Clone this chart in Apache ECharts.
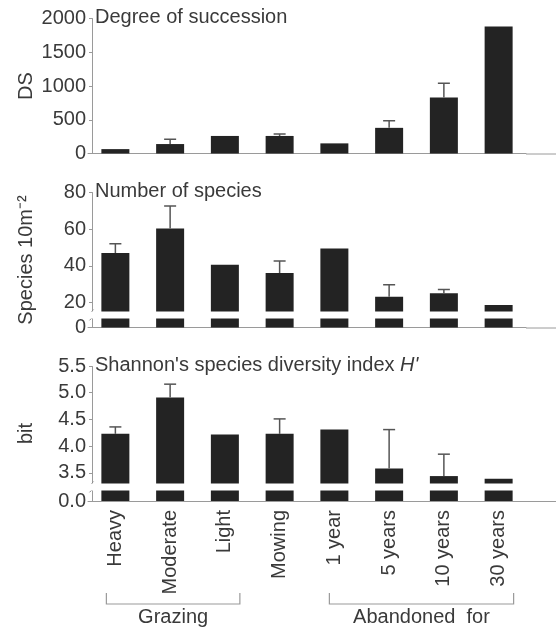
<!DOCTYPE html>
<html><head><meta charset="utf-8">
<script src="https://cdn.jsdelivr.net/npm/echarts@6/dist/echarts.min.js"></script>
<style>html,body{margin:0;padding:0;background:#fff}#c{width:560px;height:630px}</style>
</head><body><div id="c"></div>
<script>
// ---- data ----
const categories = ['Heavy', 'Moderate', 'Light', 'Mowing', '1 year', '5 years', '10 years', '30 years'];
const dsValues = [65, 140, 260, 260, 150, 380, 830, 1880];
const dsErrorTops = [null, 210, null, 290, null, 485, 1040, null];
const speciesValues = [47, 60.4, 40.6, 36, 49.4, 23.1, 25, 18.6];
const speciesErrorTops = [52, 72.6, null, 42.6, null, 29.7, 27, null];
const shannonValues = [4.23, 4.91, 4.22, 4.23, 4.31, 3.58, 3.44, 3.39];
const shannonErrorTops = [4.36, 5.16, null, 4.51, null, 4.31, 3.85, null];
const dsTicks = [0, 500, 1000, 1500, 2000];
const speciesTicks = [0, 20, 40, 60, 80];
const shannonTicks = [0, 3.5, 4.0, 4.5, 5.0, 5.5];
const speciesBreak = [5, 15];
const shannonBreak = [0.2, 3.3];
const panelTitles = ['Degree of succession', 'Number of species', "Shannon's species diversity index {i|H'}"];
const axisNames = ['DS', 'Species 10m\u207B\u00B2', 'bit'];
const groupLabels = ['Grazing', 'Abandoned  for'];
const groupRanges = [[0, 2], [4, 7]];

const FONT = 'Liberation Sans';
const TXT = '#3a3a3a';
const AX = '#9a9a9a';
const FS = 20;

const gridTops = [18.5, 192.5, 366];
const gridH = 135;

const chart = echarts.init(document.getElementById('c'), null, {renderer: 'canvas'});

function errData(vals, tops) {
  const out = [];
  vals.forEach((v, i) => { if (tops[i] != null) out.push([i, v, tops[i]]); });
  return out;
}
function errRender(params, api) {
  const i = api.value(0), v = api.value(1), e = api.value(2);
  const p0 = api.coord([i, v]);
  const p1 = api.coord([i, e]);
  const hw = 6;
  const st = {stroke: '#555', lineWidth: 1.5};
  return {type: 'group', children: [
    {type: 'line', shape: {x1: p0[0], y1: p0[1], x2: p1[0], y2: p1[1]}, style: st},
    {type: 'line', shape: {x1: p1[0] - hw, y1: p1[1], x2: p1[0] + hw, y2: p1[1]}, style: st}
  ]};
}

const breakArea = {
  show: true,
  itemStyle: {color: '#fff', borderColor: '#fff', borderWidth: 0, opacity: 1},
  zigzagAmplitude: 0,
  expandOnClick: false
};

function yAxis(idx, max, ticks, brk, fmt) {
  const ax = {
    type: 'value', gridIndex: idx, min: 0, max: max, offset: -4,
    name: axisNames[idx], nameLocation: 'middle', nameGap: 56, nameMoveOverlap: false,
    nameTextStyle: {fontSize: FS, color: TXT, fontFamily: FONT},
    axisLine: {show: true, lineStyle: {color: AX, width: 1}},
    axisTick: {show: true, length: 3, lineStyle: {color: AX}, customValues: ticks},
    axisLabel: {fontSize: FS, color: TXT, fontFamily: FONT, margin: 6, customValues: ticks,
      formatter: fmt || (v => String(v))},
    splitLine: {show: false}
  };
  if (brk) { ax.breaks = [{start: brk[0], end: brk[1], gap: '5%'}]; ax.breakArea = breakArea; }
  return ax;
}
function xAxis(idx, showLabel) {
  return {
    type: 'category', gridIndex: idx, data: categories,
    axisLine: {lineStyle: {color: AX, width: 1}},
    axisTick: {length: 2, lineStyle: {color: AX}},
    axisLabel: {show: showLabel, rotate: 90, fontSize: FS, color: TXT, fontFamily: FONT, margin: 9}
  };
}
function barSeries(idx, vals) {
  return {type: 'bar', xAxisIndex: idx, yAxisIndex: idx, data: vals, barWidth: 28,
    itemStyle: {color: '#232323'}, clip: true};
}
function errSeries(idx, vals, tops) {
  return {type: 'custom', xAxisIndex: idx, yAxisIndex: idx, data: errData(vals, tops),
    renderItem: errRender, clip: true, z: 3};
}

const option = {
  animation: false,
  backgroundColor: '#fff',
  textStyle: {fontFamily: FONT},
  title: panelTitles.map((t, i) => ({
    text: t, left: 95, top: gridTops[i] - 11, padding: 0,
    textStyle: {fontSize: FS, fontWeight: 'normal', color: TXT, fontFamily: FONT,
      rich: {i: {fontSize: FS, fontStyle: 'italic', color: TXT, fontFamily: FONT}}}
  })),
  grid: gridTops.map(t => ({left: 88, width: 438, top: t, height: gridH})),
  xAxis: [xAxis(0, false), xAxis(1, false), xAxis(2, true)],
  yAxis: [
    yAxis(0, 2000, dsTicks, null),
    yAxis(1, 80, speciesTicks, speciesBreak),
    yAxis(2, 5.5, shannonTicks, shannonBreak, v => v.toFixed(1))
  ],
  series: [
    barSeries(0, dsValues), errSeries(0, dsValues, dsErrorTops),
    barSeries(1, speciesValues), errSeries(1, speciesValues, speciesErrorTops),
    barSeries(2, shannonValues), errSeries(2, shannonValues, shannonErrorTops)
  ]
};
chart.setOption(option);

const gfx = [];
// extend x axis lines to the right edge
[0, 1, 2].forEach(g => {
  const y = chart.convertToPixel({yAxisIndex: g}, 0);
  gfx.push({type: 'line', silent: true, shape: {x1: 526, y1: y + 0.5, x2: 556, y2: y + 0.5},
    style: {stroke: AX, lineWidth: 1}});
});
// axis break marks on the y axes
[[1, speciesBreak], [2, shannonBreak]].forEach(([g, brk]) => {
  const ya = chart.convertToPixel({yAxisIndex: g}, brk[0]);
  const yb = chart.convertToPixel({yAxisIndex: g}, brk[1]);
  const ax = 92.5;
  gfx.push({type: 'rect', silent: true, z: 50, shape: {x: ax - 2, y: yb + 1, width: 4, height: ya - yb - 2},
    style: {fill: '#fff'}});
  [yb, ya].forEach(y => {
    gfx.push({type: 'line', silent: true, z: 51, shape: {x1: ax - 3, y1: y + 2, x2: ax + 1, y2: y - 2},
      style: {stroke: '#888', lineWidth: 1}});
  });
});
// group brackets under bottom axis
const bracketY = 604, bracketTop = 593, labelY = 617;
const offs = [[-9, 15], [-5, 15]];
groupRanges.forEach((r, g) => {
  const x0 = chart.convertToPixel({xAxisIndex: 2}, categories[r[0]]) + offs[g][0];
  const x1 = chart.convertToPixel({xAxisIndex: 2}, categories[r[1]]) + offs[g][1];
  gfx.push({type: 'polyline', silent: true,
    shape: {points: [[x0, bracketTop], [x0, bracketY], [x1, bracketY], [x1, bracketTop]]},
    style: {stroke: AX, lineWidth: 1.2, fill: null}});
  gfx.push({type: 'text', silent: true, x: (x0 + x1) / 2, y: labelY,
    style: {text: groupLabels[g], fill: TXT, fontSize: FS, fontFamily: FONT,
      textAlign: 'center', textVerticalAlign: 'middle'}});
});
chart.setOption({graphic: gfx});
</script></body></html>
